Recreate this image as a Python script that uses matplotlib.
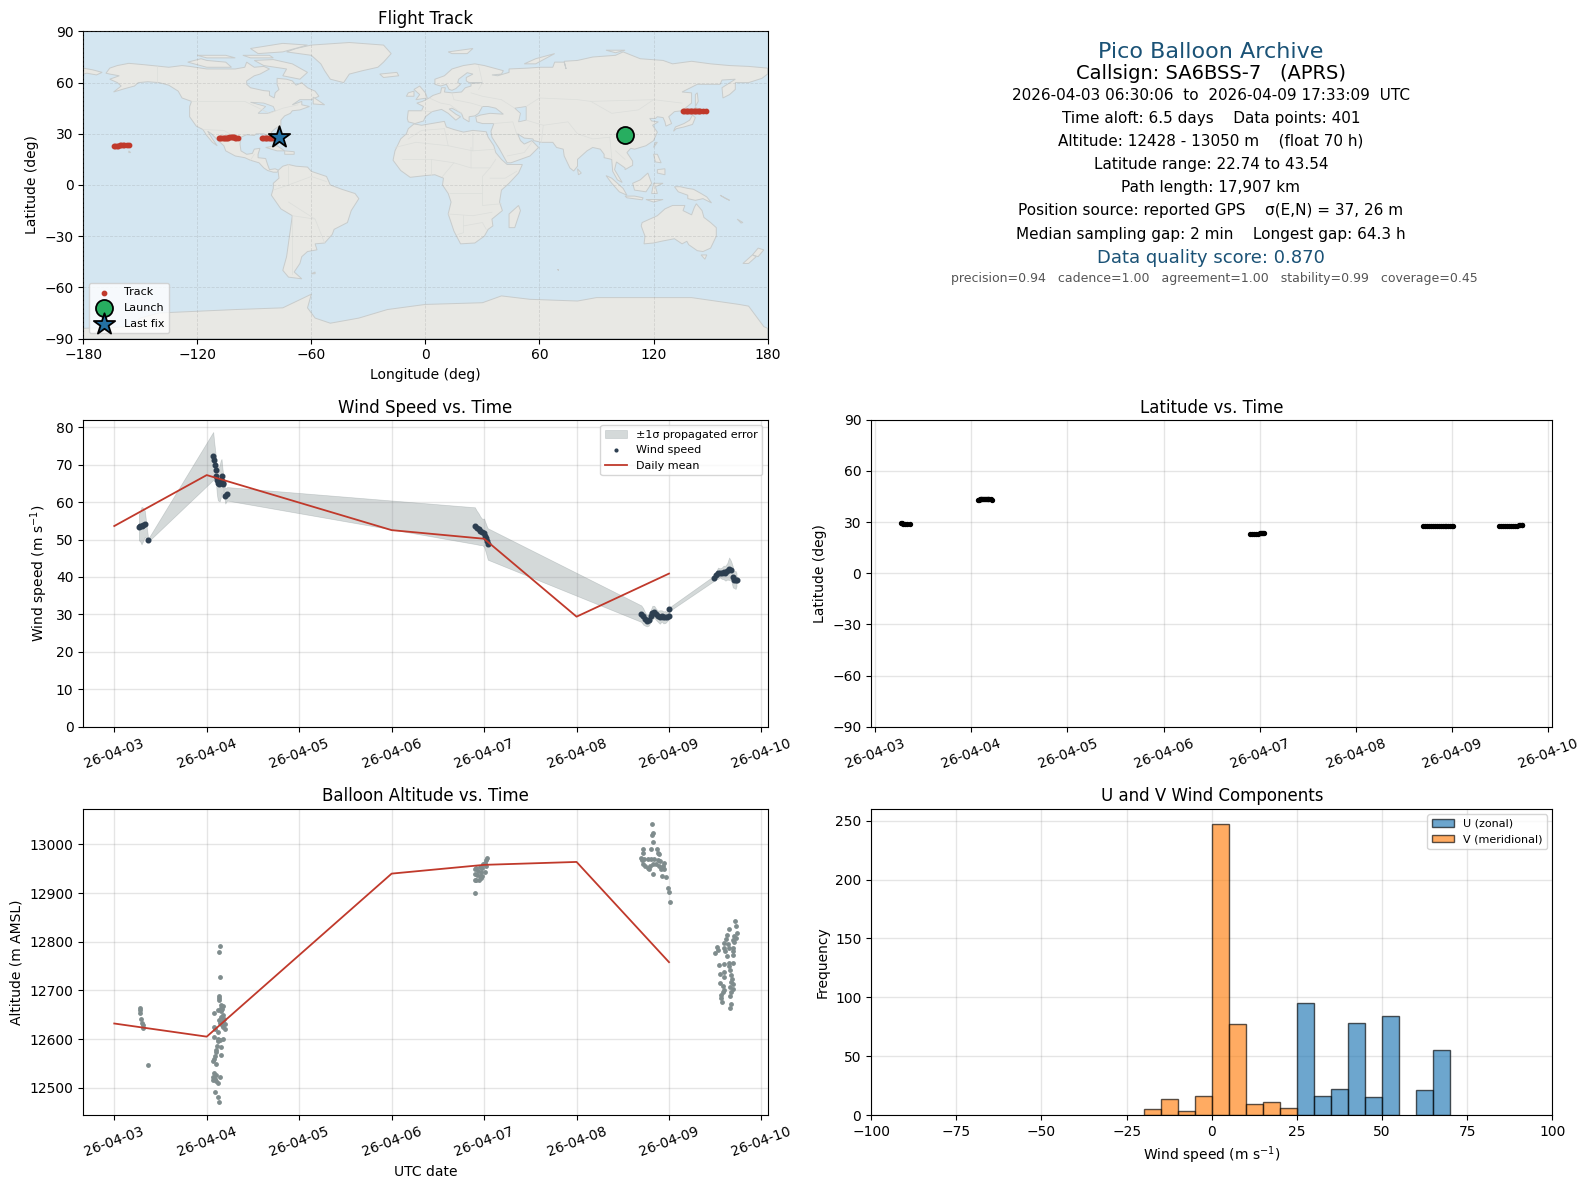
import matplotlib
matplotlib.use("Agg")
import matplotlib.pyplot as plt
import matplotlib.dates as mdates
import pandas as pd

# ---- flight data, days since 2026-04-03 00:00 UTC ----
START = pd.Timestamp("2026-04-03")

track_days = [
    0.266, 0.28, 0.295, 0.31, 0.33, 0.367,
    1.07, 1.08, 1.09, 1.10, 1.105, 1.11, 1.12, 1.13, 1.14, 1.15, 1.16, 1.17, 1.175, 1.18, 1.2, 1.22,
    3.90, 3.92, 3.94, 3.96, 3.98, 4.00, 4.01, 4.02, 4.03, 4.04,
    5.70, 5.72, 5.74, 5.76, 5.78, 5.80, 5.82, 5.84, 5.86, 5.88, 5.90, 5.92, 5.94, 5.96, 5.98, 5.995, 6.005,
    6.49, 6.51, 6.53, 6.55, 6.57, 6.59, 6.61, 6.63, 6.65, 6.67, 6.69, 6.70, 6.72, 6.73,
]
wind_speed = [
    53.3, 53.5, 53.7, 54.0, 54.2, 49.8,
    72.3, 71.2, 70.0, 68.5, 67.0, 66.0, 65.0, 64.8, 65.0, 66.0, 67.0, 65.5, 65.0, 64.8, 61.6, 62.2,
    53.7, 53.2, 52.8, 52.3, 52.0, 51.8, 51.0, 50.3, 49.5, 48.8,
    30.2, 29.5, 28.8, 28.3, 28.6, 29.5, 30.5, 30.7, 30.0, 29.5, 29.3, 29.6, 29.2, 29.3, 29.4, 29.5, 31.4,
    39.7, 40.5, 41.0, 41.1, 41.0, 41.2, 41.0, 41.5, 42.2, 41.8, 40.0, 39.3, 39.2, 39.3,
]
wind_err = [
    3.5, 4.0, 5.0, 4.5, 3.5, 0.4,
    6.4, 5.0, 4.0, 3.5, 3.5, 4.0, 4.5, 4.5, 4.8, 5.0, 4.5, 3.5, 3.0, 1.0, 2.0, 1.8,
    4.9, 4.5, 4.2, 3.8, 3.5, 3.8, 3.8, 3.9, 4.0, 4.2,
    2.2, 2.2, 1.8, 1.5, 1.6, 1.6, 1.8, 1.6, 1.5, 1.5, 1.8, 1.5, 1.6, 1.6, 1.2, 0.8, 0.5,
    0.7, 1.0, 1.5, 1.2, 1.5, 1.8, 2.0, 2.2, 3.0, 2.5, 2.8, 2.2, 2.4, 1.8,
]
track_lat = [
    29.3, 29.2, 29.1, 29.0, 28.9, 28.9,
    43.2, 43.2, 43.3, 43.3, 43.3, 43.4, 43.4, 43.4, 43.5, 43.5, 43.5, 43.5, 43.5, 43.5, 43.3, 43.2,
    22.8, 22.9, 23.0, 23.1, 23.2, 23.3, 23.4, 23.5, 23.6, 23.6,
    27.4, 27.4, 27.5, 27.5, 27.6, 27.7, 27.7, 27.8, 27.8, 27.9, 27.9, 27.9, 27.9, 27.9, 27.8, 27.8, 27.8,
    27.7, 27.7, 27.6, 27.6, 27.6, 27.7, 27.7, 27.8, 27.8, 27.9, 28.0, 28.2, 28.4, 28.5,
]
track_lon = [
    104.0, 104.4, 104.8, 105.2, 105.6, 107.0,
    135.5, 136.2, 136.9, 137.6, 138.3, 139.0, 139.7, 140.4, 141.1, 141.8, 142.5, 143.2, 143.9, 144.6, 146.0, 147.5,
    -164.0, -163.2, -162.4, -161.6, -160.8, -160.0, -159.2, -158.4, -157.2, -155.8,
    -108.5, -107.9, -107.3, -106.7, -106.1, -105.5, -104.9, -104.3, -103.7, -103.1, -102.5, -101.9, -101.3, -100.7, -100.1, -99.4, -98.7,
    -86.0, -85.3, -84.6, -83.9, -83.2, -82.5, -81.8, -81.1, -80.4, -79.7, -79.0, -78.3, -77.6, -77.0,
]

alt_days = [
    0.276, 0.276, 0.28, 0.294, 0.30, 0.312, 0.312, 0.366,
    1.14, 1.13, 1.14, 1.13, 1.13, 1.135, 1.158, 1.172, 1.154, 1.168, 1.158, 1.118, 1.075,
    1.18, 1.154, 1.136, 1.19, 1.172, 1.143, 1.2, 1.161, 1.18, 1.194, 1.075, 1.093, 1.118, 1.075,
    1.118, 1.118, 1.172, 1.143, 1.107, 1.15, 1.10, 1.097, 1.15, 1.09, 1.082, 1.065, 1.10,
    1.082, 1.10, 1.147, 1.072, 1.09, 1.065, 1.10, 1.118, 1.086, 1.118, 1.13,
    3.903, 3.9, 4.036, 4.025, 4.007, 3.989, 4.018, 3.978, 3.953, 3.917, 3.899, 3.935, 3.971, 4.007,
    3.899, 3.924, 3.953, 3.982, 3.917, 3.946, 3.971,
    5.813, 5.824, 5.813, 5.824, 5.806, 5.723, 5.871, 5.878, 5.888, 5.716, 5.698, 5.705, 5.734, 5.77,
    5.806, 5.842, 5.878, 5.903, 5.95, 5.716, 5.745, 5.77, 5.795, 5.824, 5.86, 5.896, 5.94, 5.788,
    5.914, 5.95, 5.824, 5.92, 5.968, 5.986, 5.996, 6.007,
    6.709, 6.72, 6.644, 6.73, 6.622, 6.705, 6.615, 6.687, 6.723, 6.597, 6.633, 6.705, 6.518, 6.597,
    6.651, 6.687, 6.525, 6.608, 6.694, 6.5, 6.622, 6.687, 6.536, 6.597, 6.644, 6.687, 6.651, 6.658,
    6.59, 6.597, 6.669, 6.55, 6.68, 6.55, 6.579, 6.669, 6.687, 6.658, 6.687, 6.669, 6.597, 6.579,
    6.561, 6.662, 6.561, 6.572, 6.669, 6.662,
]
altitude = [
    12664, 12659, 12654, 12642, 12633, 12628, 12623, 12547,
    12792, 12779, 12728, 12689, 12685, 12681, 12671, 12669, 12664, 12662, 12658, 12659, 12654,
    12649, 12645, 12640, 12642, 12637, 12633, 12632, 12628, 12625, 12621, 12625, 12621, 12614, 12605,
    12601, 12597, 12601, 12599, 12586, 12583, 12578, 12573, 12568, 12566, 12560, 12555, 12549,
    12530, 12527, 12522, 12522, 12518, 12515, 12514, 12510, 12491, 12481, 12471,
    12900, 12926, 12973, 12967, 12962, 12959, 12956, 12952, 12954, 12952, 12949, 12945, 12944, 12944,
    12939, 12937, 12936, 12935, 12926, 12926, 12930,
    13042, 13024, 13020, 13005, 12991, 12991, 12990, 12983, 12980, 12983, 12973, 12967, 12971, 12969,
    12969, 12971, 12967, 12966, 12962, 12959, 12956, 12952, 12956, 12959, 12959, 12956, 12956, 12949,
    12949, 12949, 12939, 12935, 12934, 12910, 12902, 12881,
    12842, 12833, 12826, 12819, 12814, 12812, 12805, 12803, 12808, 12797, 12795, 12799, 12790, 12788,
    12788, 12788, 12783, 12780, 12782, 12777, 12771, 12773, 12753, 12754, 12756, 12756, 12750, 12741,
    12737, 12728, 12732, 12734, 12724, 12715, 12709, 12717, 12713, 12706, 12703, 12696, 12700, 12696,
    12691, 12688, 12684, 12677, 12672, 12664,
]

daily_wind_days = [0, 1, 3, 4, 5, 6]
daily_wind = [53.6, 67.2, 52.5, 50.2, 29.4, 40.9]
daily_alt = [12632, 12605, 12940, 12958, 12964, 12758]

launch = (104.8, 29.5)
last_fix = (-77.0, 28.3)

# histogram counts in 5 m/s bins
hist_u_left = [25, 30, 35, 40, 45, 50, 60, 65]
hist_u = [95, 16, 22, 78, 15, 84, 21, 55]
hist_v_left = [-20, -15, -10, -5, 0, 5, 10, 15, 20]
hist_v = [5, 14, 3, 16, 247, 77, 9, 11, 6]

# ---- coarse map outlines (lon, lat) ----
land_polys = [
    # north america
    [(-168,65.5),(-166,68.5),(-162,70),(-156,71.3),(-148,70.5),(-141,69.7),(-135,69),(-128,70),(-124,69.5),(-115,68),(-108,68),
     (-100,68),(-95,69),(-94,72),(-90,69),(-85,69.5),(-82,68),(-87,65),(-90,64),(-94,61),(-94,59),(-92,57),(-85,55.3),(-82,55),
     (-82,52.5),(-79.5,51),(-79,54),(-77,56),(-78,59),(-78,62.5),(-73,62),(-70,61),(-68,58.5),(-65,60),(-62,57),(-58,55),(-56,52),
     (-60,50),(-66,50),(-70,47),(-65,49),(-65,47),(-61,46),(-66,44),(-70,43.5),(-71,42),(-74,40.5),(-76,38),(-76,35),(-79,33),
     (-81,31),(-80,27),(-80.5,25),(-82,27),(-83,29),(-85,30),(-89,30),(-90,29),(-94,29.5),(-97,28),(-97.5,24),(-97,20),(-94,18),
     (-91,18.5),(-90,21),(-87,21.5),(-88,18),(-88,16),(-84,15.5),(-83,12),(-82,9),(-79,9.5),(-77,8.5),(-78,7.5),(-80,7.5),(-83,8.5),
     (-85,10),(-87.5,13),(-92,14.5),(-95,16),(-100,17),(-105,20),(-106,23),(-109,26),(-112.5,30),(-114.5,31.5),(-112,27),(-109.5,23),
     (-112,25),(-115,29),(-117,32.5),(-120.5,34.5),(-124,40),(-124,46),(-123,49),(-128,51),(-130,55),(-135,58.5),(-140,60),(-146,60.5),
     (-151,60),(-153,58),(-158,56.5),(-164,54.5),(-160,58),(-162,60),(-166,62),(-161,64),(-166,65)],
    # greenland
    [(-73,78),(-68,80),(-60,82),(-40,83.5),(-22,82),(-18,77),(-22,72),(-25,69),(-33,67),(-40,65),(-43,60),(-50,62),(-53,67),(-55,71),(-60,76)],
    # south america
    [(-77.5,8.5),(-75,11),(-72,12),(-68,11),(-62,10.5),(-60,8),(-52,5),(-50,0),(-44,-2.5),(-37,-5),(-35,-8),(-39,-15),(-41,-22),(-48,-26),
     (-49,-29),(-53,-34),(-58,-34.5),(-57,-38),(-62,-39),(-65,-42),(-66,-46),(-69,-51),(-65,-55),(-72,-54),(-75,-50),(-73,-42),(-71.5,-30),
     (-70,-18),(-76,-14),(-81,-6),(-80,-2),(-80,1),(-77,4)],
    # africa
    [(-6,35.8),(-2,35),(10,37.3),(11,34),(15,32.5),(20,31),(25,32),(32,31.2),(33,28),(36,23),(37,19),(40,15),(43,12),(51,12),(49,7),(44,1),
     (40,-3),(39,-10),(40.5,-15),(35,-20),(35.5,-24),(33,-26),(31,-30),(26,-34),(18.5,-34.5),(15,-27),(12,-17),(13.5,-10),(12,-5),(9,0),
     (9.5,4),(5,6),(0,5.5),(-4,5),(-8,4.5),(-13,8.5),(-17,14.5),(-16,20),(-13,27),(-10,30),(-9,33)],
    # eurasia
    [(-9,37),(-9.5,39),(-9,43.5),(-2,43.5),(-1,46),(-4.5,48),(-1.5,49),(2,51),(4,52.5),(8,54),(8.5,57),(10.5,57),(10,54.5),(14,54),(19,54.5),
     (21,57),(24,58),(24,59.5),(30,60),(23,60),(21.5,61),(21.5,63),(25,65),(22,65.8),(17.5,62),(17,60),(18.5,59),(16,56.5),(14,55.5),(12.5,56),
     (11,59),(8,58),(5,59),(5,62),(10,64),(14,68),(20,70),(26,71),(31,70),(41,67),(40,65),(35,64.5),(38,64),(44,66),(44,68),(54,68.5),(60,69),
     (67,69),(68,72),(73,72),(74,68),(73,72.5),(80,73),(88,75),(100,76),(104,78),(113,74),(125,73),(130,71),(140,72.5),(150,71),(160,70),
     (170,69.5),(180,68.5),(180,65),(177,62.5),(170,60),(163,60),(163,56),(160,53),(156.5,51),(156,57),(163,62),(156,61.5),(155,59),(143,59),
     (135,54.5),(140,54),(140,48),(135,43.5),(131,43),(128,40),(129.5,36),(126.5,34.5),(126,37),(125,39.5),(122,40),(121,39),(118,39),(119,37.5),
     (122.5,37),(119.5,35),(122,31),(120,26),(116,23),(110,21),(108,21.5),(106,19),(109,14),(109,11.5),(105,9),(105,10),(100.5,13.5),(99.5,9),
     (103.5,1.5),(101,3),(98.5,8),(98,15),(94,16),(94,18),(92,21),(88,22),(85,20),(80,15),(80,11),(78,8.2),(76,10),(73,17),(72.5,21),(69,22),
     (67,25),(61,25),(57,26),(56.5,27),(52,27.5),(48.5,30),(50,26),(52,24),(56,26),(59.5,22),(55,17),(45,13),(43,13),(39,21),(35,28),(34.5,31.5),
     (36,36),(30,36),(27,37),(26.5,40),(29,41),(34,42),(41,41.5),(37,45),(33,46),(30,46),(28,42),(26,40.5),(23,40),(23,37),(20,39),(19,42),(14,45),
     (12.5,44.5),(16,41.5),(18.5,40),(16,38),(12,42),(8.5,44.3),(3.5,43),(0,40),(-1,37.5),(-5.5,36)],
    [(-180,68.5),(-175,67.5),(-170,66),(-173,64.5),(-178,65.5),(-180,65)],
    # australia
    [(113.5,-24),(114,-22),(122,-18),(126,-14),(130,-12),(136.5,-12),(135.5,-15),(140,-17.5),(141.5,-13),(142.5,-11),(145.5,-15),(146.5,-19),
     (150,-22),(153,-25),(153,-30),(150,-37),(146,-39),(143,-38.5),(138.5,-35),(137.5,-33),(135,-34.5),(131,-31.5),(124,-33),(120,-34),(115,-34.5),(115.5,-30)],
    # antarctica
    [(-180,-90),(-180,-84),(-155,-83),(-150,-78),(-140,-75),(-120,-74),(-100,-73),(-75,-72),(-60,-64),(-62,-72),(-58,-78),(-50,-81),(-35,-78),
     (-20,-73),(0,-70),(30,-69),(40,-65),(55,-67),(80,-68),(90,-66),(110,-66),(140,-66),(165,-70),(170,-71),(178,-83),(180,-84),(180,-90)],
    # islands
    [(44,-25),(47,-25),(50,-15),(49,-12),(44,-17)],
    [(-125,72),(-118,74),(-115,73),(-105,72),(-102,69),(-115,69)],
    [(-90,73),(-80,73.5),(-70,71),(-62,66),(-66,62),(-75,64),(-73,68),(-85,70)],
    [(-92,80),(-75,83),(-62,82),(-75,78),(-88,77)],
    [(-120,76),(-105,76),(-100,74.5),(-115,74.5)],
    [(-96,76),(-82,76),(-80,74.5),(-92,74.5)],
    [(-59,51.5),(-53,47),(-59,47.5)],
    [(-84,22),(-78,23),(-74,20),(-78,20)],
    [(-74,20),(-69,19.5),(-69,18),(-74,18)],
    [(-24,65),(-15,66),(-14,64),(-22,63)],
    [(-5,50),(1,51),(0,54),(-3,58),(-6,56),(-3,53)],
    [(-10,52),(-6,52),(-6,55),(-9,54)],
    [(12,78),(25,80),(22,77),(14,77)],
    [(52,71),(58,74),(68,77),(58,71)],
    [(95,79),(105,79),(100,77.5)],
    [(130.5,31.5),(131.5,34),(136,36),(139,38),(140.5,41),(142,39.5),(140.5,35.5),(136,34),(132,33)],
    [(140,42),(142,45.5),(145.5,43.5),(143,42)],
    [(142,46),(143.5,49),(143,54),(142,53)],
    [(120,22),(122,25),(121,25)],
    [(120,18),(122,18),(124,13),(121,13.5)],
    [(122,9),(126,9.5),(126,6),(122,7)],
    [(109,1),(113,3),(117,7),(119,1),(116,-4),(110,-3)],
    [(95,5.5),(98,4),(104,-2),(106,-6),(102,-4),(98,1)],
    [(105,-6.5),(110,-6.5),(114.5,-7.5),(114,-8.7),(106,-7.5)],
    [(116,-8.5),(125,-8.5),(120,-10)],
    [(119,-5),(120,1),(125,1),(121,-1),(122,-5)],
    [(131,-1),(134,-1),(138,-2),(141,-2.5),(145,-5),(148,-7),(150.5,-10.5),(146,-8),(142,-9),(138,-8),(138,-6),(133,-4)],
    [(172,-41),(175,-37),(178,-38),(175,-42)],
    [(167,-46),(172,-41),(174,-42),(170,-46)],
    [(145,-41),(148,-41),(147,-43.5)],
    [(80,9.5),(82,7),(80.5,6)],
    [(164,-20),(167,-22),(166,-22.3)],
    [(155,-6),(160,-9),(158,-8)],
    [(-156,20),(-155,19),(-156,19)],
    [(-60,-52),(-58,-51),(-58,-52)],
    [(69,-49),(70,-49),(70,-50)],
]
water_polys = [
    [(47,45),(53,46),(53,38),(49,37),(50,42)],
    [(-92,48.5),(-85,48),(-80,46),(-79,43.5),(-83,42),(-88,42),(-84,46)],
]
border_lines = [
    [(-123,49),(-95,49),(-82,42),(-75,45),(-67,47)], [(-117,32.5),(-106,32),(-97,26)], [(-141,60),(-141,70)],
    [(-92,14.5),(-90,18)], [(-70,-18),(-58,-20),(-53,-34)], [(-72,0),(-60,5),(-52,2)], [(-72,-10),(-58,-20)],
    [(-70,-18),(-70,-52)], [(-72,12),(-72,0),(-80,-3)], [(-2,43.5),(3.5,43)], [(2,51),(8,48),(13,47),(19,42)],
    [(14,54),(15,50),(24,48),(30,46)], [(24,54),(30,52),(40,50)], [(28,70),(30,60),(28,56)], [(40,50),(47,45)],
    [(53,46),(60,51),(80,50),(87,49),(120,50),(135,48)], [(87,49),(98,42),(112,44),(120,50)], [(53,38),(62,35),(75,37),(80,30),(88,27),(97,28)],
    [(62,35),(61,25)], [(48,30),(46,37),(36,36)], [(35,30),(48,30)], [(43,17),(52,19),(56,25)], [(97,28),(98,16)], [(100,20),(105,15)],
    [(-9,27),(-2,32),(10,33)], [(10,33),(12,23),(25,20),(25,31)], [(-16,22),(-5,25),(12,23)], [(25,20),(37,21)], [(24,22),(24,10),(34,10),(37,15)],
    [(-12,15),(3,15),(15,13),(24,10)], [(3,15),(3,6)], [(15,13),(9,5)], [(13,-5),(30,-5),(30,-12),(40,-11)], [(30,-5),(30,5),(34,10)], [(34,4),(42,4),(48,8)],
    [(12,-17),(25,-18),(35,-16)], [(20,-18),(20,-28),(17,-29)], [(20,-24),(30,-22),(32,-26)],
]

# ---- style ----
C_OCEAN = "#d4e6f1"
C_LAND = "#e8e8e4"
C_COAST = "#c8cccc"
C_RED = "#c0392b"
C_TITLE = "#1a5276"
C_WIND = "#2c3e50"
C_ALT = "#7f8c8d"

W, H = 1567.0, 1173.0  # axes boxes measured on this pixel frame
LEFT_COL = (82, 757)
RIGHT_COL = (859, 1531)
ROWS = [(31, 334), (414, 717), (798, 1100)]


def make_axes(fig, col, row):
    x0, x1 = col
    y0, y1 = row
    return fig.add_axes([x0 / W, 1 - y1 / H, (x1 - x0) / W, (y1 - y0) / H])


def to_dates(days):
    return START + pd.to_timedelta(days, unit="D")


def date_axis(ax):
    ax.xaxis.set_major_locator(mdates.DayLocator())
    ax.xaxis.set_major_formatter(mdates.DateFormatter("%y-%m-%d"))
    ax.tick_params(axis="x", rotation=20)
    ax.grid(True, color="gray", alpha=0.2, lw=1)
    ax.set_axisbelow(True)


fig = plt.figure(figsize=(15.89, 11.89), dpi=100)

# --- flight track map ---
ax = make_axes(fig, LEFT_COL, ROWS[0])
ax.set_facecolor(C_OCEAN)
for poly in land_polys:
    ax.fill(*zip(*poly), facecolor=C_LAND, edgecolor=C_COAST, lw=0.7, zorder=1)
for poly in water_polys:
    ax.fill(*zip(*poly), facecolor=C_OCEAN, edgecolor=C_COAST, lw=0.6, zorder=1.1)
for line in border_lines:
    ax.plot(*zip(*line), color="#dcdedb", lw=0.5, zorder=1.2)
ax.grid(True, color="gray", alpha=0.22, lw=0.6, ls="--", zorder=1.5)
ax.set_axisbelow(False)
ax.scatter(track_lon, track_lat, s=10, color=C_RED, zorder=3, label="Track")
ax.scatter(*launch, s=150, color="#27ae60", edgecolor="black", lw=1.3, zorder=4, label="Launch")
ax.scatter(*last_fix, s=260, marker="*", color="#2471a3", edgecolor="black", lw=1.3, zorder=5, label="Last fix")
ax.set_xlim(-180, 180)
ax.set_ylim(-90, 90)
ax.set_xticks(range(-180, 181, 60))
ax.set_yticks(range(-90, 91, 30))
ax.set_xlabel("Longitude (deg)")
ax.set_ylabel("Latitude (deg)")
ax.set_title("Flight Track", fontsize=12, pad=5)
ax.legend(loc="lower left", fontsize=8)

# --- summary text ---
cx = 1194 / W
summary = [
    (51, 0, "Pico Balloon Archive", 16, C_TITLE),
    (73, 0, "Callsign: SA6BSS-7   (APRS)", 14, "black"),
    (94, 0, "2026-04-03 06:30:06  to  2026-04-09 17:33:09  UTC", 11, "black"),
    (117, 0, "Time aloft: 6.5 days    Data points: 401", 11, "black"),
    (139, 0, "Altitude: 12428 - 13050 m    (float 70 h)", 11, "black"),
    (162, 0, "Latitude range: 22.74 to 43.54", 11, "black"),
    (185, 0, "Path length: 17,907 km", 11, "black"),
    (208, 0, "Position source: reported GPS    σ(E,N) = 37, 26 m", 11, "black"),
    (231, 0, "Median sampling gap: 2 min    Longest gap: 64.3 h", 11, "black"),
    (255, 0, "Data quality score: 0.870", 13, C_TITLE),
    (275, 4, "precision=0.94   cadence=1.00   agreement=1.00   stability=0.99   coverage=0.45", 9, "#555555"),
]
for y, dx, txt, size, col in summary:
    fig.text(cx + dx / W, 1 - y / H, txt, ha="center", va="center", fontsize=size, color=col)

# --- wind speed ---
ax = make_axes(fig, LEFT_COL, ROWS[1])
t_track = to_dates(track_days)
low = [v - e for v, e in zip(wind_speed, wind_err)]
high = [v + e for v, e in zip(wind_speed, wind_err)]
ax.fill_between(t_track, low, high, color=C_ALT, alpha=0.33, lw=0.5, label="±1σ propagated error")
ax.scatter(t_track, wind_speed, s=11, color=C_WIND, zorder=3, label="Wind speed")
ax.plot(to_dates(daily_wind_days), daily_wind, color=C_RED, lw=1.3, zorder=4, label="Daily mean")
ax.set_ylim(0, 82)
ax.set_yticks(range(0, 81, 10))
ax.set_ylabel("Wind speed (m s$^{-1}$)")
ax.set_title("Wind Speed vs. Time", fontsize=12, pad=5)
date_axis(ax)
ax.legend(loc="upper right", fontsize=8, markerscale=0.6)

# --- latitude ---
ax = make_axes(fig, RIGHT_COL, ROWS[1])
ax.scatter(t_track, track_lat, s=8, color="black", zorder=3)
ax.set_xlim(to_dates(-0.042), to_dates(7.042))
ax.set_ylim(-90, 90)
ax.set_yticks(range(-90, 91, 30))
ax.set_ylabel("Latitude (deg)")
ax.set_title("Latitude vs. Time", fontsize=12, pad=5)
date_axis(ax)

# --- altitude ---
ax = make_axes(fig, LEFT_COL, ROWS[2])
ax.scatter(to_dates(alt_days), altitude, s=6, color=C_ALT, zorder=3)
ax.plot(to_dates(daily_wind_days), daily_alt, color=C_RED, lw=1.3, zorder=4)
ax.set_ylim(12444, 13073)
ax.set_ylabel("Altitude (m AMSL)")
ax.set_xlabel("UTC date")
ax.set_title("Balloon Altitude vs. Time", fontsize=12)
date_axis(ax)

# --- U / V histogram ---
ax = make_axes(fig, RIGHT_COL, ROWS[2])
ax.bar(hist_u_left, hist_u, width=5, align="edge", color="C0", alpha=0.65, edgecolor="black", label="U (zonal)", zorder=2)
ax.bar(hist_v_left, hist_v, width=5, align="edge", color="C1", alpha=0.65, edgecolor="black", label="V (meridional)", zorder=2)
ax.set_xlim(-100, 100)
ax.set_ylim(0, 260)
ax.set_xlabel("Wind speed (m s$^{-1}$)")
ax.set_ylabel("Frequency")
ax.set_title("U and V Wind Components", fontsize=12)
ax.grid(True, color="gray", alpha=0.2, lw=1)
ax.set_axisbelow(True)
ax.legend(loc="upper right", fontsize=8)

fig.savefig("out.png", dpi=100)
